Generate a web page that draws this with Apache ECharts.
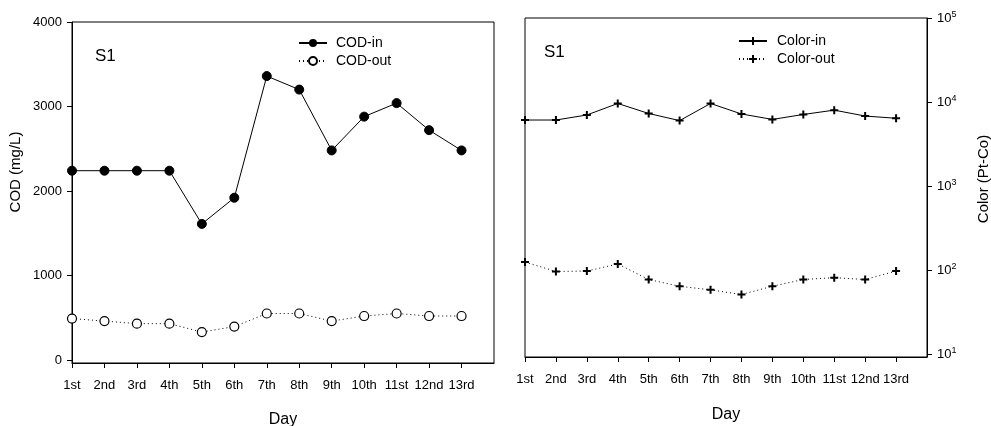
<!DOCTYPE html>
<html>
<head>
<meta charset="utf-8">
<script src="https://cdn.jsdelivr.net/npm/echarts@6/dist/echarts.min.js"></script>
<style>
  html, body { margin: 0; padding: 0; background: #fff; }
  #chart { width: 991px; height: 426px; }
</style>
</head>
<body>
<div id="chart"></div>
<script>
// 天数 (last empty slot keeps room on the right like the original)
const days = ['1st', '2nd', '3rd', '4th', '5th', '6th', '7th', '8th', '9th', '10th', '11st', '12nd', '13rd', ''];

const codIn = [2240, 2240, 2240, 2240, 1610, 1920, 3360, 3200, 2480, 2880, 3040, 2720, 2480];
const codOut = [490, 460, 430, 430, 330, 395, 550, 550, 460, 520, 550, 520, 520];
const codTicks = [0, 1000, 2000, 3000, 4000];

const colorIn = [6100, 6100, 7000, 9600, 7300, 6000, 9600, 7200, 6200, 7100, 8000, 6800, 6400];
const colorOut = [124, 96, 97, 118, 77, 64, 58, 51, 64, 77, 81, 77, 97];
const colorTicks = [10, 100, 1000, 10000, 100000];

const FONT = 'Liberation Sans, Arial, sans-serif';
const plus = 'path://M3.75,0h2.5v3.75h3.75v2.5h-3.75v3.75h-2.5v-3.75h-3.75v-2.5h3.75z';

const chart = echarts.init(document.getElementById('chart'));

const xAxisBase = {
  type: 'category',
  data: days,
  boundaryGap: false,
  name: 'Day',
  nameLocation: 'middle',
  nameMoveOverlap: false,
  nameTextStyle: { fontFamily: FONT, fontSize: 16, color: '#000' },
  axisLine: { onZero: false, lineStyle: { color: '#000', width: 1 } },
  axisTick: { length: 5, interval: (i) => i < 13, lineStyle: { color: '#000' } },
  axisLabel: { interval: 0, margin: 16, fontFamily: FONT, fontSize: 13, color: '#000' },
  splitLine: { show: false }
};

const option = {
  animation: false,
  backgroundColor: '#fff',
  grid: [
    { left: 72, right: 497, top: 22, bottom: 63, outerBoundsMode: 'none', show: true, borderColor: '#000', borderWidth: 1 },
    { left: 525, right: 64, top: 18, bottom: 69, outerBoundsMode: 'none', show: true, borderColor: '#000', borderWidth: 1 }
  ],
  xAxis: [
    { ...xAxisBase, gridIndex: 0, nameGap: 49 },
    { ...xAxisBase, gridIndex: 1, nameGap: 50 }
  ],
  yAxis: [
    {
      gridIndex: 0,
      type: 'value',
      min: -36,
      max: 4000,
      axisLine: { show: true, onZero: false, lineStyle: { color: '#000' } },
      axisTick: { show: true, length: 5, customValues: codTicks, lineStyle: { color: '#000' } },
      axisLabel: {
        customValues: codTicks,
        margin: 10,
        fontFamily: FONT,
        fontSize: 13,
        color: '#000',
        formatter: (v) => String(v)
      },
      splitLine: { show: false }
    },
    {
      gridIndex: 1,
      type: 'log',
      logBase: 10,
      min: 9.2,
      max: 100000,
      position: 'right',
      axisLine: { show: true, onZero: false, lineStyle: { color: '#000' } },
      axisTick: { show: true, length: 5, customValues: colorTicks, lineStyle: { color: '#000' } },
      minorTick: { show: false },
      axisLabel: {
        customValues: colorTicks,
        margin: 10,
        color: '#000',
        formatter: (v) => '{b|10}{s|' + Math.round(Math.log10(v)) + '}',
        rich: {
          b: { fontFamily: FONT, fontSize: 13, color: '#000' },
          s: { fontFamily: FONT, fontSize: 9, color: '#000', padding: [0, 0, 7, 0] }
        }
      },
      splitLine: { show: false }
    }
  ],
  legend: [
    {
      data: ['COD-in', 'COD-out'],
      orient: 'vertical',
      left: 293,
      top: 31,
      itemWidth: 28,
      itemHeight: 10,
      itemGap: 4,
      textStyle: { fontFamily: FONT, fontSize: 14, color: '#000', padding: [0, 0, 0, 4] }
    },
    {
      data: ['Color-in', 'Color-out'],
      orient: 'vertical',
      left: 733,
      top: 29,
      itemWidth: 28,
      itemHeight: 10,
      itemGap: 4,
      textStyle: { fontFamily: FONT, fontSize: 14, color: '#000', padding: [0, 0, 0, 5] }
    }
  ],
  graphic: [
    { type: 'text', left: 95, top: 48, style: { text: 'S1', font: '17px ' + FONT, fill: '#000' } },
    { type: 'text', left: 544, top: 44, style: { text: 'S1', font: '17px ' + FONT, fill: '#000' } },
    {
      type: 'text', x: 15.5, y: 172, rotation: Math.PI / 2,
      style: { text: 'COD (mg/L)', font: '15px ' + FONT, fill: '#000', align: 'center', verticalAlign: 'middle' }
    },
    {
      type: 'text', x: 984, y: 179, rotation: Math.PI / 2,
      style: { text: 'Color (Pt-Co)', font: '15px ' + FONT, fill: '#000', align: 'center', verticalAlign: 'middle' }
    }
  ],
  series: [
    {
      name: 'COD-in', type: 'line', xAxisIndex: 0, yAxisIndex: 0, data: codIn,
      symbol: 'circle', symbolSize: 9,
      itemStyle: { color: '#000', borderColor: '#000' },
      lineStyle: { color: '#000', width: 1 }
    },
    {
      name: 'COD-out', type: 'line', xAxisIndex: 0, yAxisIndex: 0, data: codOut,
      symbol: 'circle', symbolSize: 9,
      itemStyle: { color: '#fff', borderColor: '#000', borderWidth: 1.2 },
      lineStyle: { color: '#000', width: 1, type: [1, 3] }
    },
    {
      name: 'Color-in', type: 'line', xAxisIndex: 1, yAxisIndex: 1, data: colorIn,
      symbol: plus, symbolSize: 8,
      itemStyle: { color: '#000' },
      lineStyle: { color: '#000', width: 1 }
    },
    {
      name: 'Color-out', type: 'line', xAxisIndex: 1, yAxisIndex: 1, data: colorOut,
      symbol: plus, symbolSize: 8,
      itemStyle: { color: '#000' },
      lineStyle: { color: '#000', width: 1, type: [1, 3] }
    }
  ]
};

chart.setOption(option);
</script>
</body>
</html>
